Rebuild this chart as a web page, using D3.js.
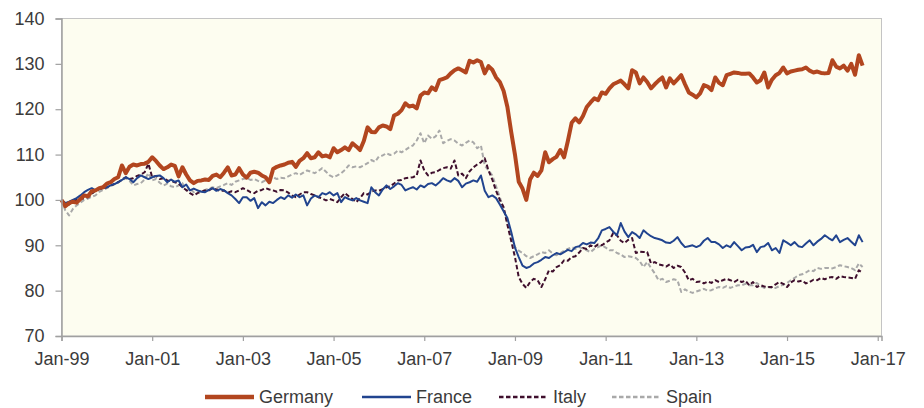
<!DOCTYPE html>
<html>
<head>
<meta charset="utf-8">
<script src="https://cdn.jsdelivr.net/npm/d3@7"></script>
<style>
  html, body { margin: 0; padding: 0; background: #ffffff; }
  svg { display: block; font-family: "Liberation Sans", Arial, sans-serif; }
</style>
</head>
<body>
<svg id="chart" width="924" height="408"></svg>
<script>
// Monthly index values, Jan-1999 = 100 (Jan-1999 .. Sep-2016)
const germany = [
  100, 98.6, 99.3, 99.6, 99.4, 100.2, 101, 100.8, 101.9, 102.1, 102.6, 102.8,
  103.6, 103.9, 104.6, 105, 107.6, 105.9, 107.3, 107.8, 107.6, 107.9, 108, 108.4,
  109.4, 108.6, 107.6, 106.8, 107.2, 107.8, 107.5, 105.2, 107.2, 105.6, 104.3, 103.7,
  104.2, 104.3, 104.5, 104.4, 105.3, 105.6, 105, 106, 107.2, 105.4, 105.6, 107,
  105.6, 104.9, 106, 106.2, 106, 105.4, 105, 103.9, 106.8, 107.3, 107.6, 107.8,
  108.2, 108.4, 107.3, 108.6, 109.2, 110.3, 109.2, 109.4, 110.5, 109.6, 109.8, 109.4,
  111.4, 110.5, 111, 111.6, 111, 112.5, 111.8, 111, 113, 116, 115, 114.9,
  116, 116.4, 116.2, 115.6, 118.6, 119, 119.8, 121.3, 120.6, 120.8, 120.2, 123,
  123.7, 123.5, 124.8, 124.2, 126.4, 126.7, 127, 127.9, 128.6, 129, 128.6, 128.1,
  130.7, 130.3, 130.8, 130.4, 127.9, 129.5, 128.7, 127, 126, 124, 120.5, 115,
  110, 104, 102.5, 100, 104.5, 106, 105.3, 106.5, 110.5, 108.3, 109, 109.5,
  111, 109.4, 113, 117, 118, 117.1, 118.5, 120.5, 121.5, 122.4, 122, 123.7,
  123.4, 124.6, 125.5, 125.9, 126.3, 125.5, 124.6, 128.6, 128.1, 125.7, 127, 126,
  124.6, 125.5, 126.3, 127, 124.8, 126.8, 125.7, 126.6, 127.5, 125.5, 123.7, 123.2,
  122.6, 123.5, 125.3, 125, 124.2, 127, 125.8, 125.3, 127.5, 127.8, 128.1, 128,
  127.8, 127.8, 127.9, 127, 125.9, 126.4, 128.1, 124.8, 126.5, 127.5, 128, 129.2,
  127.9, 128.3, 128.5, 128.7, 128.8, 129.2, 128.5, 128.1, 128.3, 128, 127.9, 128,
  130.8, 129.4, 129, 129.6, 128.5, 130, 127.6, 131.9, 129.6
];
const france = [
  100, 99.3, 99.6, 100, 100.4, 101, 101.7, 102.2, 102.6, 102.1, 102.4, 102.6,
  102.8, 103.2, 103.5, 103.9, 104.4, 105, 104.6, 103.9, 104.8, 105.4, 105, 104.6,
  105, 105.3, 105.4, 104.8, 103.9, 104.5, 104, 104.3, 102.8, 103.4, 102.1, 102.5,
  102.1, 101.8, 101.7, 102.2, 102.6, 102, 102.4, 102.1, 101.5, 101, 100.2, 99.3,
  100.6, 100.6, 99.8, 100.4, 98.2, 99.5, 98.8, 99.6, 99.3, 100, 100.6, 100.2,
  101, 100.5, 101.2, 100.6, 101, 98.8, 100.3, 101, 100.6, 101.5, 101.2, 101.7,
  101, 101.5, 99.5, 100.6, 100.2, 99.9, 100.4, 99.9, 99.6, 99.3, 102.8, 101.7,
  101, 102.3, 103.2, 102.4, 103, 103.7, 103.3, 102.1, 102.5, 102.8, 102.3, 103.2,
  102.8, 103.5, 103.7, 103.2, 103.9, 104.8, 104.3, 104, 104.8, 104.2, 102.8, 103.6,
  103.9, 104.3, 104, 105.4, 102, 100.6, 101, 100.4, 99, 97.5, 96, 93,
  89.5, 87.4, 85.5, 85, 85.3, 86, 86.3, 86.8, 87.4, 87.2, 87.8, 88.3,
  88, 88.5, 89, 88.7, 89.6, 89.8, 90.5, 90.2, 90.6, 90.5, 91.5, 93.3,
  93.6, 94, 93, 92.2, 94.9, 93, 91.8, 92.9, 92.4, 91.6, 93.3, 92.6,
  92, 91.6, 91.4, 91.1, 90.6, 90.5, 91, 91.8, 90.5, 89.6, 89.8, 90,
  89.6, 90, 91, 91.6, 90.7, 90.7, 90.2, 89.4, 90, 89.6, 90.7, 89.8,
  88.9, 89.5, 89.6, 90.1, 88.5, 89.6, 89.8, 90.5, 88.9, 89.4, 88.3, 91.1,
  90.6, 90, 90.7, 89.8, 89.6, 90.4, 91.1, 90, 90.8, 91.4, 92.2, 91.6,
  91.1, 92.2, 90.7, 91.2, 91.6, 90.8, 90, 92.2, 90.7
];
const italy = [
  100, 99.3, 99, 99.8, 100, 100.2, 100.4, 100.6, 101.3, 102.1, 102.4, 102.6,
  102.8, 103.2, 103.5, 103.9, 104.5, 105, 104.6, 104.8, 105.3, 105.6, 106.1, 108,
  105, 105.3, 104.6, 104.8, 104.3, 104.2, 103.9, 103.6, 102.8, 102.2, 101.5, 101,
  101.5, 101.8, 102.1, 102.1, 102.6, 102.3, 102, 102.1, 101.6, 101.9, 101.7, 102.1,
  102.6, 102.2, 101.7, 101.5, 102, 102.2, 102.6, 102.3, 102.1, 101.8, 102.2, 102.1,
  101.6, 101, 100.6, 101.2, 101.7, 101.7, 101.3, 101, 100.6, 100.3, 99.9, 100.2,
  99.9, 99.5, 100.6, 101.5, 100.8, 100.2, 99.5, 100.4, 101.5, 101.2, 101.8, 102.1,
  102, 102.4, 102.8, 103, 103.6, 104.3, 104.4, 104.8, 104.9, 105, 105.4, 108.7,
  106.5, 105.4, 106, 106.1, 106.6, 107, 107.2, 106.9, 108.7, 105.4, 105.8, 104.8,
  106.3, 107.2, 107.8, 108.3, 109.2, 106.5, 104.5, 102, 100, 98.4, 94.5, 91,
  87.4, 83, 81.5, 80.6, 81.9, 82.6, 82.3, 80.8, 82.5, 84.5, 84.2, 85.2,
  85.6, 86.7, 86.6, 87.4, 87.6, 88.4, 89.4, 89.2, 90, 89.6, 90.2, 90,
  90.6, 91.1, 92.7, 92.2, 91, 90.5, 91.2, 91.6, 88.3, 88.6, 88.5, 88.5,
  86, 86.3, 85.8, 85.6, 85.3, 85.8, 85, 85.5, 85.2, 84, 82.3, 82.6,
  81.9, 82, 81.6, 82, 81.7, 82.3, 81.9, 82.3, 82.6, 82.3, 81.9, 82.4,
  81.9, 82.2, 81.2, 81.9, 80.8, 81.2, 80.9, 80.8, 80.8, 81.4, 81.9, 81.5,
  80.8, 81.8, 82.3, 82, 82.2, 81.6, 81.9, 82.4, 82.3, 82.8, 82.5, 82.9,
  83, 82.6, 83.2, 83, 82.9, 82.8, 82.6, 84.5, 83.9
];
const spain = [
  100, 97.7, 96.6, 98, 98.8, 99.4, 100, 100.3, 100.7, 101, 101.8, 102.2,
  102.6, 103, 103.5, 103.9, 104.3, 104.8, 104.2, 103.2, 103.5, 103.7, 104.5, 105.9,
  104.3, 104.6, 103.8, 103.2, 103.6, 103, 102.8, 103.2, 103.7, 102.1, 102.5, 101.7,
  102.1, 101.9, 102.2, 102.5, 102.8, 102.6, 103, 103.3, 103.7, 103.3, 104, 104.3,
  104.6, 104.8, 104.4, 104.6, 104.2, 103.9, 104.3, 104.6, 105, 104.6, 104.9, 104.8,
  105.2, 105.6, 105.9, 105.5, 106, 106.5, 106.2, 105.9, 106.4, 107, 106.2, 105.4,
  105, 105.4, 105.9, 106.6, 107.6, 107.2, 107.4, 107.2, 107.6, 108.1, 108.8, 108.4,
  109.6, 109.8, 110.3, 109.9, 110.2, 110.9, 110.5, 111, 111.6, 112, 113.1, 114.7,
  112.5, 114.2, 113.5, 114, 115.3, 112.5, 113, 113.4, 113.1, 112.4, 112, 112.6,
  113.1, 112.7, 111.4, 112, 107.6, 106.5, 105.4, 103, 100.6, 98, 94.9, 91.5,
  89.6, 88.8, 88.3, 87.6, 87.2, 87.6, 88, 88.5, 88.3, 88.9, 88.2, 87.8,
  88.3, 88.8, 89.2, 89.6, 89.2, 89.6, 89.3, 88.9, 88.5, 89.2, 89.6, 90,
  89.5, 88.9, 88.9, 88.3, 88, 87.4, 87.6, 87.4, 87.2, 86.5, 85.2, 86.3,
  85, 83.8, 82.3, 82.6, 81.9, 82.2, 82.5, 82.3, 79.7, 80.3, 79.8, 79.5,
  79.8, 80.1, 80.4, 80, 80.1, 80.5, 80.8, 80.6, 81, 80.6, 80.9, 81.2,
  81.2, 81.5, 81.2, 81.2, 81.7, 81, 80.6, 80.8, 80.6, 80.6, 81, 81.3,
  81.7, 82.3, 82.8, 83.4, 83.6, 84, 84.5, 84.3, 85, 84.8, 85, 85,
  84.9, 85.2, 85.6, 85.4, 85.2, 85, 84.5, 86, 85.2
];
const seriesNames = ["Germany", "France", "Italy", "Spain"];
const xTickLabels = ["Jan-99", "Jan-01", "Jan-03", "Jan-05", "Jan-07", "Jan-09", "Jan-11", "Jan-13", "Jan-15", "Jan-17"];
const yTicks = [70, 80, 90, 100, 110, 120, 130, 140];

const styles = {
  Germany: { color: "#B2461F", width: 4, dash: null },
  France:  { color: "#21448F", width: 2, dash: null },
  Italy:   { color: "#3F0F2D", width: 2, dash: "4.5,2.5" },
  Spain:   { color: "#A9A9A9", width: 2, dash: "4.5,2.5" }
};
const dataByName = { Germany: germany, France: france, Italy: italy, Spain: spain };

const FONT = "'Liberation Sans', Arial, sans-serif";
const svg = d3.select("#chart");
const plotL = 61.5, plotR = 881.5, plotT = 18.5, plotB = 336;

const x = d3.scaleLinear().domain([0, 217]).range([plotL, plotR]);
const y = d3.scaleLinear().domain([70, 140]).range([plotB, plotT]);

// plot background
svg.append("rect")
  .attr("x", plotL).attr("y", plotT)
  .attr("width", plotR - plotL).attr("height", plotB - plotT)
  .attr("fill", "#FDFDF0")
  .attr("stroke", "#C4C4C4").attr("stroke-width", 1);

// series lines (Germany drawn last, on top)
const line = d3.line().x((d, i) => x(i)).y(d => y(d));
["Spain", "Italy", "France", "Germany"].forEach(name => {
  const s = styles[name];
  svg.append("path")
    .datum(dataByName[name])
    .attr("fill", "none")
    .attr("stroke", s.color)
    .attr("stroke-width", s.width)
    .attr("stroke-linejoin", "round")
    .attr("stroke-dasharray", s.dash)
    .attr("d", line);
});

// y axis
const yAxis = d3.axisLeft(y).tickValues(yTicks).tickSize(6).tickPadding(11).tickFormat(d3.format("d"));
const gy = svg.append("g").attr("transform", `translate(${plotL},0)`).call(yAxis);
gy.select(".domain").attr("stroke", "#A0A0A0").attr("stroke-width", 1.5);
gy.selectAll(".tick line").attr("stroke", "#A0A0A0").attr("stroke-width", 1.2);
gy.selectAll(".tick text").attr("fill", "#3B3B3B").style("font-size", "18px")
  .style("font-family", FONT);

// x axis
const xAxis = d3.axisBottom(x)
  .tickValues(xTickLabels.map((_, i) => i * 24))
  .tickSize(5).tickPadding(11)
  .tickFormat((d, i) => xTickLabels[i]);
const gx = svg.append("g").attr("transform", `translate(0,${plotB})`).call(xAxis);
gx.select(".domain").attr("stroke", "#A0A0A0").attr("stroke-width", 1.5);
gx.selectAll(".tick line").attr("stroke", "#A0A0A0").attr("stroke-width", 1.2);
gx.selectAll(".tick text").attr("fill", "#3B3B3B").style("font-size", "18px")
  .style("font-family", FONT);

// legend
const legendX = [205, 362, 499, 612];
const legend = svg.append("g");
seriesNames.forEach((name, i) => {
  const s = styles[name];
  const g = legend.append("g").attr("transform", `translate(${legendX[i]},397)`);
  g.append("line")
    .attr("x1", 0).attr("x2", 49).attr("y1", 0).attr("y2", 0)
    .attr("stroke", s.color)
    .attr("stroke-width", name === "Germany" ? 4.5 : 2.5)
    .attr("stroke-dasharray", s.dash);
  g.append("text")
    .attr("x", 54).attr("y", 0).attr("dy", "0.35em")
    .attr("fill", "#3B3B3B")
    .style("font-size", "18px")
    .style("font-family", FONT)
    .text(name);
});
</script>
</body>
</html>
